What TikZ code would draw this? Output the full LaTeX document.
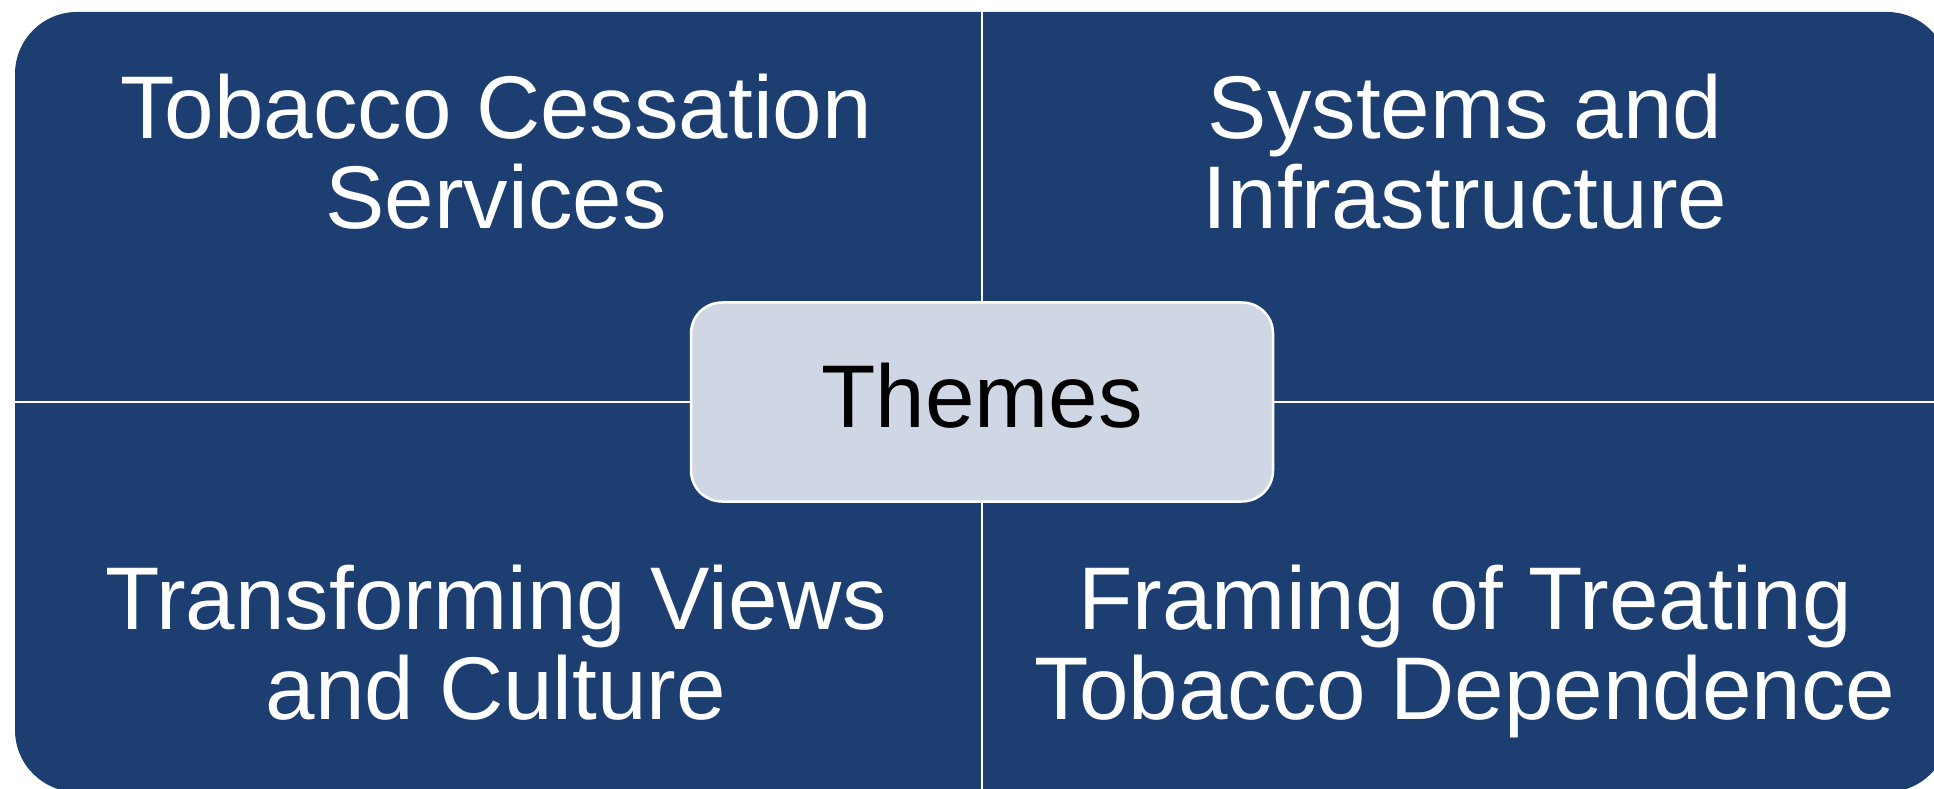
\documentclass[tikz,border=0pt]{standalone}
\usepackage{fontspec}
\setmainfont{Liberation Sans}
\usetikzlibrary{positioning}
\definecolor{themeblue}{RGB}{28,62,113}
\definecolor{themegrey}{RGB}{208,215,228}
\tikzstyle{quadtext}=[text=white, font=\fontsize{89}{90}\selectfont, align=center, inner sep=0pt, anchor=base]
\tikzstyle{hubbox}=[draw=white, line width=2.5pt, fill=themegrey, rounded corners=31pt, minimum width=582pt, minimum height=199pt, inner sep=0pt, text depth=13pt, font=\fontsize{89}{90}\selectfont]
\tikzstyle{divider}=[draw=white, line width=2pt]

\begin{document}
\begin{tikzpicture}[x=1pt,y=1pt]
        \useasboundingbox (0,0) rectangle (1934,788);
        \clip (0,0) rectangle (1934,788);
        % outer panel, runs off the right and bottom edge
        \fill[themeblue, rounded corners=62pt] (15,-4) rectangle (1949,776);

        \coordinate (top) at (982,776);
        \coordinate (bottom) at (982,-4);
        \coordinate (left) at (15,386);
        \coordinate (right) at (1949,386);

        \node[hubbox] (themes) at (982,386) {Themes};

        \draw[divider] (themes.north) -- (top);
        \draw[divider] (themes.south) -- (bottom);
        \draw[divider] (themes.west) -- (left);
        \draw[divider] (themes.east) -- (right);

        % base = last line
        \node[quadtext] (services) at (496,559) {Tobacco Cessation\\Services};
        \node[quadtext] (systems) at (1465,559) {Systems and\\Infrastructure};
        \node[quadtext] (views) at (496,69) {Transforming Views\\and Culture};
        \node[quadtext] (framing) at (1465,69) {Framing of Treating\\Tobacco Dependence};
\end{tikzpicture}
\end{document}
